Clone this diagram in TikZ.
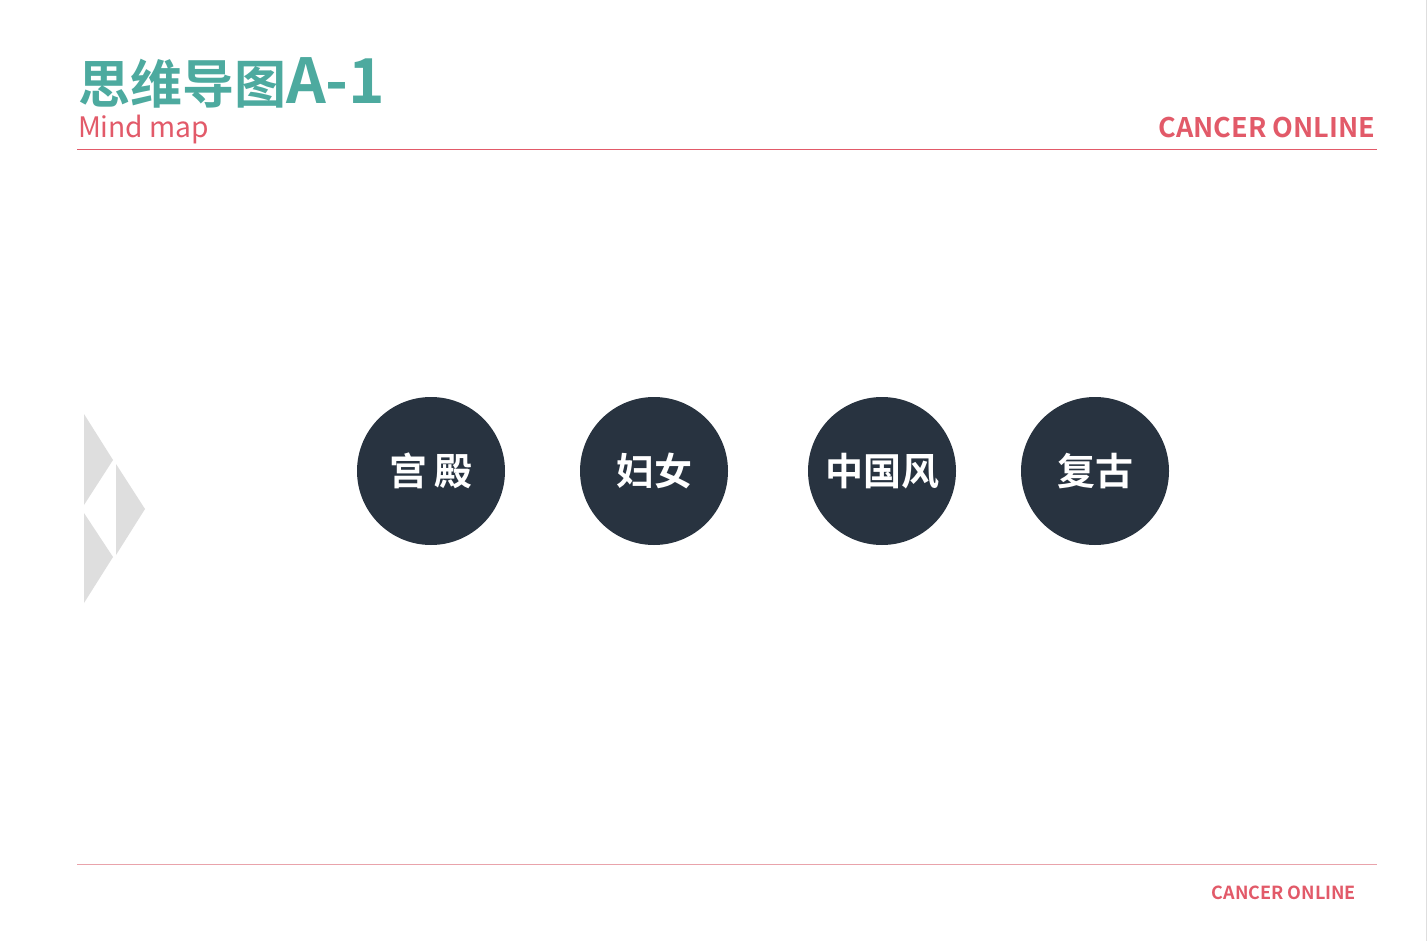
\documentclass[tikz,border=0pt]{standalone}
\usepackage{fontspec}
\newfontfamily\cjkb{Noto Sans CJK SC Bold}
\newfontfamily\cjkr{Noto Sans CJK SC}
\definecolor{teal}{HTML}{4DAA9F}
\definecolor{rosered}{HTML}{E25A69}
\definecolor{rosepale}{HTML}{E9A3AB}
\definecolor{darknavy}{HTML}{283340}
\definecolor{trigray}{HTML}{DEDEDE}
\begin{document}
\begin{tikzpicture}[x=1pt,y=-1pt,
  txt/.style={inner sep=0pt,outer sep=0pt},
  bubble/.style={circle,fill=darknavy,minimum size=148pt,inner sep=0pt,text=white,font=\cjkb\fontsize{38}{40}\selectfont},
  tri/.style={fill=trigray,draw=none}]
\useasboundingbox (0,0) rectangle (1427,941);
\fill[white] (0,0) rectangle (1427,941);
\draw[trigray,line width=1pt] (1426,0) -- (1426,941);
% header
\node[txt,anchor=base west,text=teal] (title) at (78,104) {\cjkb\fontsize{52}{56}\selectfont 思维导图\fontsize{62}{64}\selectfont A-1};
\node[txt,anchor=base west,text=rosered] (sub) at (78,138) {\cjkr\fontsize{28.2}{32}\selectfont Mind map};
\node[txt,anchor=base east,text=rosered] (brand) at (1375,138) {\cjkb\fontsize{27}{30}\selectfont CANCER ONLINE};
\coordinate (hl) at (77,150); \coordinate (hr) at (1377,150);
\draw[rosered,line width=1pt] (hl) -- (hr);
% footer
\coordinate (fl) at (77,864); \coordinate (fr) at (1377,864);
\draw[rosepale,line width=1pt] (fl) -- (fr);
\node[txt,anchor=base east,text=rosered] (brand2) at (1356,899) {\cjkb\fontsize{18}{20}\selectfont CANCER ONLINE};
% triangles
\fill[tri] (84,414) -- (113,460) -- (84,505) -- cycle;
\fill[tri] (84,513) -- (113,557) -- (84,603) -- cycle;
\fill[tri] (116,464) -- (145,509) -- (116,555) -- cycle;
% circles
\node[bubble] (c1) at (431,471) {宫\hspace{8pt}殿};
\node[bubble] (c2) at (654,471) {妇女};
\node[bubble] (c3) at (882,471) {中国风};
\node[bubble] (c4) at (1095,471) {复古};
\end{tikzpicture}
\end{document}
